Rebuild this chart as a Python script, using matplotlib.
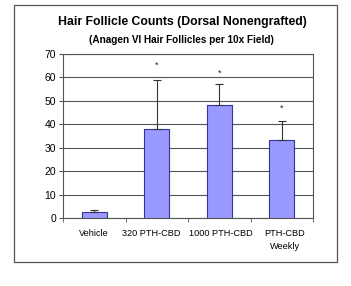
import matplotlib
matplotlib.use("Agg")
import matplotlib.pyplot as plt
from matplotlib.patches import Rectangle
import numpy as np

plt.rcParams['font.family'] = ['Liberation Sans', 'DejaVu Sans']

categories = ["Vehicle", "320 PTH-CBD", "1000 PTH-CBD", "PTH-CBD\nWeekly"]
means = [2.5, 38.0, 48.3, 33.2]
err_up = [1.0, 21.0, 8.8, 8.0]
stars = [None, 65.0, 62.0, 47.0]
yticks = [0, 10, 20, 30, 40, 50, 60, 70]

W, H = 351, 286
fig = plt.figure(figsize=(W / 100, H / 100), dpi=100)
fig.patch.set_facecolor('white')

# outer chart border
fig.patches.append(Rectangle((14 / W, 1 - 262 / H), (337 - 14) / W, (262 - 5) / H,
                             transform=fig.transFigure, fill=False,
                             edgecolor='#555555', linewidth=0.9))

ax = fig.add_axes([63 / W, 1 - 218 / H, (313 - 63) / W, (218 - 54) / H])
x = np.arange(len(categories))
ax.bar(x, means, width=0.4, color='#9999FF', edgecolor='#333399', linewidth=0.8, zorder=3)
ax.errorbar(x, means, yerr=[np.zeros(len(means)), err_up], fmt='none',
            ecolor='#333333', elinewidth=0.8, capsize=3, capthick=0.8, zorder=4)
for xi, s in zip(x, stars):
    if s is not None:
        ax.text(xi, s, '*', ha='center', va='center', fontsize=6.5, color='#222222')

ax.set_xlim(-0.5, len(categories) - 0.5)
ax.set_ylim(0, 70)
ax.set_yticks(yticks)
ax.set_yticklabels([str(v) for v in yticks], fontsize=7.5)
ax.yaxis.grid(True, color='#555555', linewidth=0.8, zorder=0)
ax.set_axisbelow(True)

ax.set_xticks(x)
ax.set_xticklabels([])
ax.tick_params(axis='x', length=0)
shifts = [0, -5, 2, 3]
for xi, lab, dx in zip(x, categories, shifts):
    ax.annotate(lab, xy=(xi, 0), xycoords=('data', 'axes fraction'),
                xytext=(dx * 0.72, -8), textcoords='offset points',
                ha='center', va='top', fontsize=6.6, linespacing=1.5)
ax.set_xticks(np.arange(-0.5, len(categories), 1), minor=True)
ax.tick_params(axis='x', which='minor', length=3, color='#555555')
ax.tick_params(axis='y', length=3, color='#555555', pad=2)
for sp in ['left', 'bottom', 'right', 'top']:
    ax.spines[sp].set_color('#555555')
    ax.spines[sp].set_linewidth(0.8)

fig.text(0.5 + 7 / W, 1 - 22 / H, "Hair Follicle Counts (Dorsal Nonengrafted)",
         ha='center', va='center', fontsize=8.8, fontweight='bold')
fig.text(0.5 + 6 / W, 1 - 40 / H, "(Anagen VI Hair Follicles per 10x Field)",
         ha='center', va='center', fontsize=7.2, fontweight='bold')

fig.savefig("out.png", dpi=100, facecolor='white')
